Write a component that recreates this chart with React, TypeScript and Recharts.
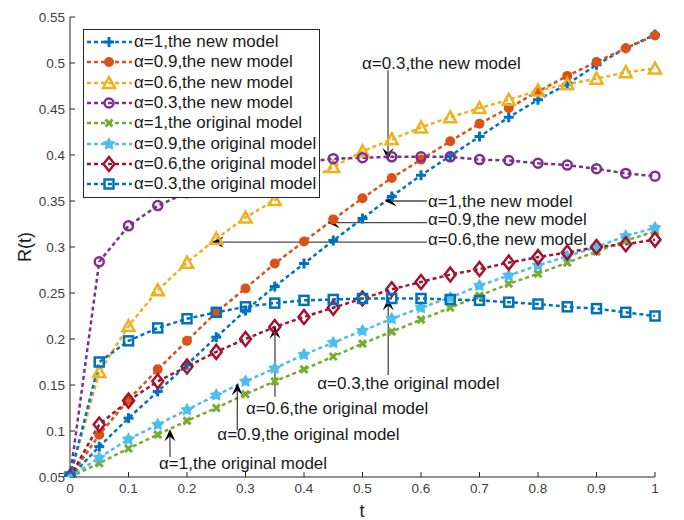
import React from "react";
import { LineChart, Line, XAxis, YAxis, ReferenceLine } from "recharts";

const T = [0, 0.05, 0.1, 0.15, 0.2, 0.25, 0.3, 0.35, 0.4, 0.45, 0.5, 0.55, 0.6, 0.65, 0.7, 0.75, 0.8, 0.85, 0.9, 0.95, 1];

const NEW_A1 = [0.05, 0.083, 0.114, 0.143, 0.172, 0.202, 0.231, 0.257, 0.282, 0.307, 0.331, 0.355, 0.378, 0.399, 0.42, 0.441, 0.46, 0.477, 0.498, 0.516, 0.531];
const NEW_A09 = [0.05, 0.096, 0.134, 0.167, 0.198, 0.229, 0.255, 0.282, 0.306, 0.33, 0.353, 0.375, 0.395, 0.415, 0.434, 0.451, 0.469, 0.486, 0.501, 0.516, 0.53];
const NEW_A06 = [0.05, 0.164, 0.214, 0.253, 0.283, 0.309, 0.332, 0.351, 0.37, 0.387, 0.404, 0.417, 0.43, 0.441, 0.451, 0.46, 0.47, 0.477, 0.483, 0.49, 0.494];
const NEW_A03 = [0.05, 0.284, 0.323, 0.345, 0.359, 0.371, 0.38, 0.387, 0.392, 0.396, 0.397, 0.398, 0.398, 0.398, 0.395, 0.394, 0.391, 0.389, 0.385, 0.38, 0.377];
const ORIG_A1 = [0.05, 0.065, 0.081, 0.096, 0.111, 0.125, 0.14, 0.154, 0.167, 0.181, 0.195, 0.208, 0.221, 0.234, 0.247, 0.26, 0.271, 0.283, 0.295, 0.307, 0.317];
const ORIG_A09 = [0.05, 0.071, 0.091, 0.107, 0.123, 0.139, 0.154, 0.168, 0.183, 0.196, 0.209, 0.222, 0.234, 0.245, 0.258, 0.269, 0.28, 0.29, 0.3, 0.312, 0.321];
const ORIG_A06 = [0.05, 0.107, 0.133, 0.154, 0.17, 0.186, 0.2, 0.213, 0.224, 0.234, 0.244, 0.254, 0.262, 0.27, 0.276, 0.283, 0.289, 0.294, 0.3, 0.303, 0.308];
const ORIG_A03 = [0.05, 0.175, 0.198, 0.212, 0.222, 0.229, 0.235, 0.239, 0.242, 0.243, 0.244, 0.244, 0.244, 0.243, 0.242, 0.24, 0.238, 0.235, 0.233, 0.229, 0.225];

const X_TICKS = [0, 0.1, 0.2, 0.3, 0.4, 0.5, 0.6, 0.7, 0.8, 0.9, 1];
const Y_TICKS = [0.05, 0.1, 0.15, 0.2, 0.25, 0.3, 0.35, 0.4, 0.45, 0.5, 0.55];

const SERIES = [
  { key: "n1", name: "α=1,the new model", values: NEW_A1, color: "#0072BD", marker: "plus" },
  { key: "n09", name: "α=0.9,the new model", values: NEW_A09, color: "#D95319", marker: "dot" },
  { key: "n06", name: "α=0.6,the new model", values: NEW_A06, color: "#EDB120", marker: "triangle" },
  { key: "n03", name: "α=0.3,the new model", values: NEW_A03, color: "#7E2F8E", marker: "circle" },
  { key: "o1", name: "α=1,the original model", values: ORIG_A1, color: "#77AC30", marker: "cross" },
  { key: "o09", name: "α=0.9,the original model", values: ORIG_A09, color: "#4DBEEE", marker: "star" },
  { key: "o06", name: "α=0.6,the original model", values: ORIG_A06, color: "#A2142F", marker: "diamond" },
  { key: "o03", name: "α=0.3,the original model", values: ORIG_A03, color: "#0072BD", marker: "square" },
];

// arrow notes: tail -> tip in data units, text offset from tail in px
const NOTES = [
  { text: "α=0.3,the new model", tail: [0.5436, 0.492], tip: [0.5436, 0.3946], dx: -26, dy: -7 },
  { text: "α=1,the new model", tail: [0.6103, 0.35], tip: [0.538, 0.35], dx: 1, dy: 0 },
  { text: "α=0.9,the new model", tail: [0.6103, 0.3264], tip: [0.4405, 0.3264], dx: 1, dy: -3 },
  { text: "α=0.6,the new model", tail: [0.6103, 0.3054], tip: [0.2422, 0.3054], dx: 1, dy: -3 },
  { text: "α=0.3,the original model", tail: [0.544, 0.1609], tip: [0.544, 0.2443], dx: -71, dy: 9 },
  { text: "α=0.6,the original model", tail: [0.3504, 0.1373], tip: [0.3504, 0.2134], dx: -29, dy: 12 },
  { text: "α=0.9,the original model", tail: [0.286, 0.1011], tip: [0.286, 0.1518], dx: -20, dy: 5 },
  { text: "α=1,the original model", tail: [0.1709, 0.0717], tip: [0.1709, 0.1018], dx: -11, dy: 6 },
];

const data = T.map((t, i) => {
  const row: any = { t };
  SERIES.forEach((s) => (row[s.key] = s.values[i]));
  return row;
});

const FONT = "'Liberation Sans', Arial, Helvetica, sans-serif";

function Marker({ type, color, cx, cy }: { type: string; color: string; cx: number; cy: number }) {
  const sw = 2.5;
  switch (type) {
    case "plus":
      return (
        <g stroke={color} strokeWidth={3}>
          <line x1={cx - 5} y1={cy} x2={cx + 5} y2={cy} />
          <line x1={cx} y1={cy - 5} x2={cx} y2={cy + 5} />
        </g>
      );
    case "dot":
      return <circle cx={cx} cy={cy} r={5} fill={color} />;
    case "triangle":
      return (
        <polygon
          points={`${cx},${cy - 6} ${cx + 6},${cy + 5} ${cx - 6},${cy + 5}`}
          fill="none"
          stroke={color}
          strokeWidth={sw}
        />
      );
    case "circle":
      return <circle cx={cx} cy={cy} r={4.5} fill="none" stroke={color} strokeWidth={sw} />;
    case "cross":
      return (
        <g stroke={color} strokeWidth={3}>
          <line x1={cx - 3.5} y1={cy - 3.5} x2={cx + 3.5} y2={cy + 3.5} />
          <line x1={cx - 3.5} y1={cy + 3.5} x2={cx + 3.5} y2={cy - 3.5} />
        </g>
      );
    case "star": {
      const pts: string[] = [];
      for (let k = 0; k < 10; k++) {
        const r = k % 2 === 0 ? 5.5 : 3;
        const a = -Math.PI / 2 + (k * Math.PI) / 5;
        pts.push(`${cx + r * Math.cos(a)},${cy + r * Math.sin(a)}`);
      }
      return <polygon points={pts.join(" ")} fill={color} stroke={color} strokeWidth={1.5} />;
    }
    case "diamond":
      return (
        <polygon
          points={`${cx},${cy - 7} ${cx + 5.5},${cy} ${cx},${cy + 7} ${cx - 5.5},${cy}`}
          fill="none"
          stroke={color}
          strokeWidth={sw}
        />
      );
    case "square":
      return <rect x={cx - 4.5} y={cy - 4.5} width={9} height={9} fill="none" stroke={color} strokeWidth={sw} />;
  }
  return null;
}

function Arrow(props: any) {
  const { x1, y1, x2, y2, note } = props;
  const ang = Math.atan2(y2 - y1, x2 - x1);
  const L = 12;
  const W = 5.5;
  const bx = x2 - L * Math.cos(ang);
  const by = y2 - L * Math.sin(ang);
  const nx = x2 - L * 0.6 * Math.cos(ang);
  const ny = y2 - L * 0.6 * Math.sin(ang);
  const px = -Math.sin(ang) * W;
  const py = Math.cos(ang) * W;
  return (
    <g>
      <line x1={x1} y1={y1} x2={nx} y2={ny} stroke="#4a4a4a" strokeWidth={1.3} />
      <polygon points={`${x2},${y2} ${bx + px},${by + py} ${nx},${ny} ${bx - px},${by - py}`} fill="#000" />
      <text x={x1 + note.dx} y={y1 + note.dy} dominantBaseline="central" fontSize={17} fontFamily={FONT} fill="#1a1a1a">
        {note.text}
      </text>
    </g>
  );
}

function LegendBox() {
  return (
    <div
      style={{
        position: "absolute",
        left: 75,
        top: 21,
        width: 235,
        height: 165,
        border: "1px solid #262626",
        background: "#fff",
        fontFamily: FONT,
        fontSize: 17,
        color: "#1a1a1a",
        paddingTop: 2,
        boxSizing: "content-box",
      }}
    >
      {SERIES.map((s) => (
        <div key={s.key} style={{ display: "flex", alignItems: "center", height: 20.3, whiteSpace: "nowrap" }}>
          <svg width={50} height={20} style={{ flex: "none" }}>
            <line x1={3} y1={10} x2={48} y2={10} stroke={s.color} strokeWidth={2.5} strokeDasharray="4 3" />
            <Marker type={s.marker} color={s.color} cx={25} cy={10} />
          </svg>
          <span style={{ marginLeft: 0 }}>{s.name}</span>
        </div>
      ))}
    </div>
  );
}

export default function App() {
  return (
    <div style={{ position: "relative", width: 676, height: 512 }}>
      <LineChart width={676} height={512} data={data} margin={{ top: 9, right: 29, left: 0, bottom: 0 }}>
        <XAxis
          dataKey="t"
          type="number"
          domain={[0, 1]}
          ticks={X_TICKS}
          height={43}
          tickSize={-5}
          tickMargin={11}
          stroke="#262626"
          tick={{ fill: "#404040", fontSize: 13.5, fontFamily: FONT }}
          label={{
            content: () => (
              <text x={354} y={509} textAnchor="middle" fontSize={18} fontFamily={FONT} fill="#1a1a1a">
                t
              </text>
            ),
          }}
        />
        <YAxis
          type="number"
          domain={[0.05, 0.55]}
          ticks={Y_TICKS}
          width={62}
          tickSize={-5}
          tickMargin={10}
          stroke="#262626"
          tick={{ fill: "#404040", fontSize: 13.5, fontFamily: FONT }}
          allowDataOverflow
          label={{
            content: () => (
              <text
                x={17}
                y={239}
                transform="rotate(-90 17 239)"
                textAnchor="middle"
                dominantBaseline="central"
                fontSize={18}
                fontFamily={FONT}
                fill="#1a1a1a"
              >
                R(t)
              </text>
            ),
          }}
        />
        {SERIES.map((s) => (
          <Line
            key={s.key}
            dataKey={s.key}
            name={s.name}
            stroke={s.color}
            strokeWidth={2.5}
            strokeDasharray="4 3"
            isAnimationActive={false}
            dot={(p: any) => <Marker key={`${s.key}-${p.index}`} type={s.marker} color={s.color} cx={p.cx} cy={p.cy} />}
            activeDot={false}
          />
        ))}
        {NOTES.map((n, i) => (
          <ReferenceLine
            key={i}
            segment={[
              { x: n.tail[0], y: n.tail[1] },
              { x: n.tip[0], y: n.tip[1] },
            ]}
            ifOverflow="visible"
            shape={(p: any) => <Arrow {...p} note={n} />}
          />
        ))}
      </LineChart>
      <LegendBox />
    </div>
  );
}
